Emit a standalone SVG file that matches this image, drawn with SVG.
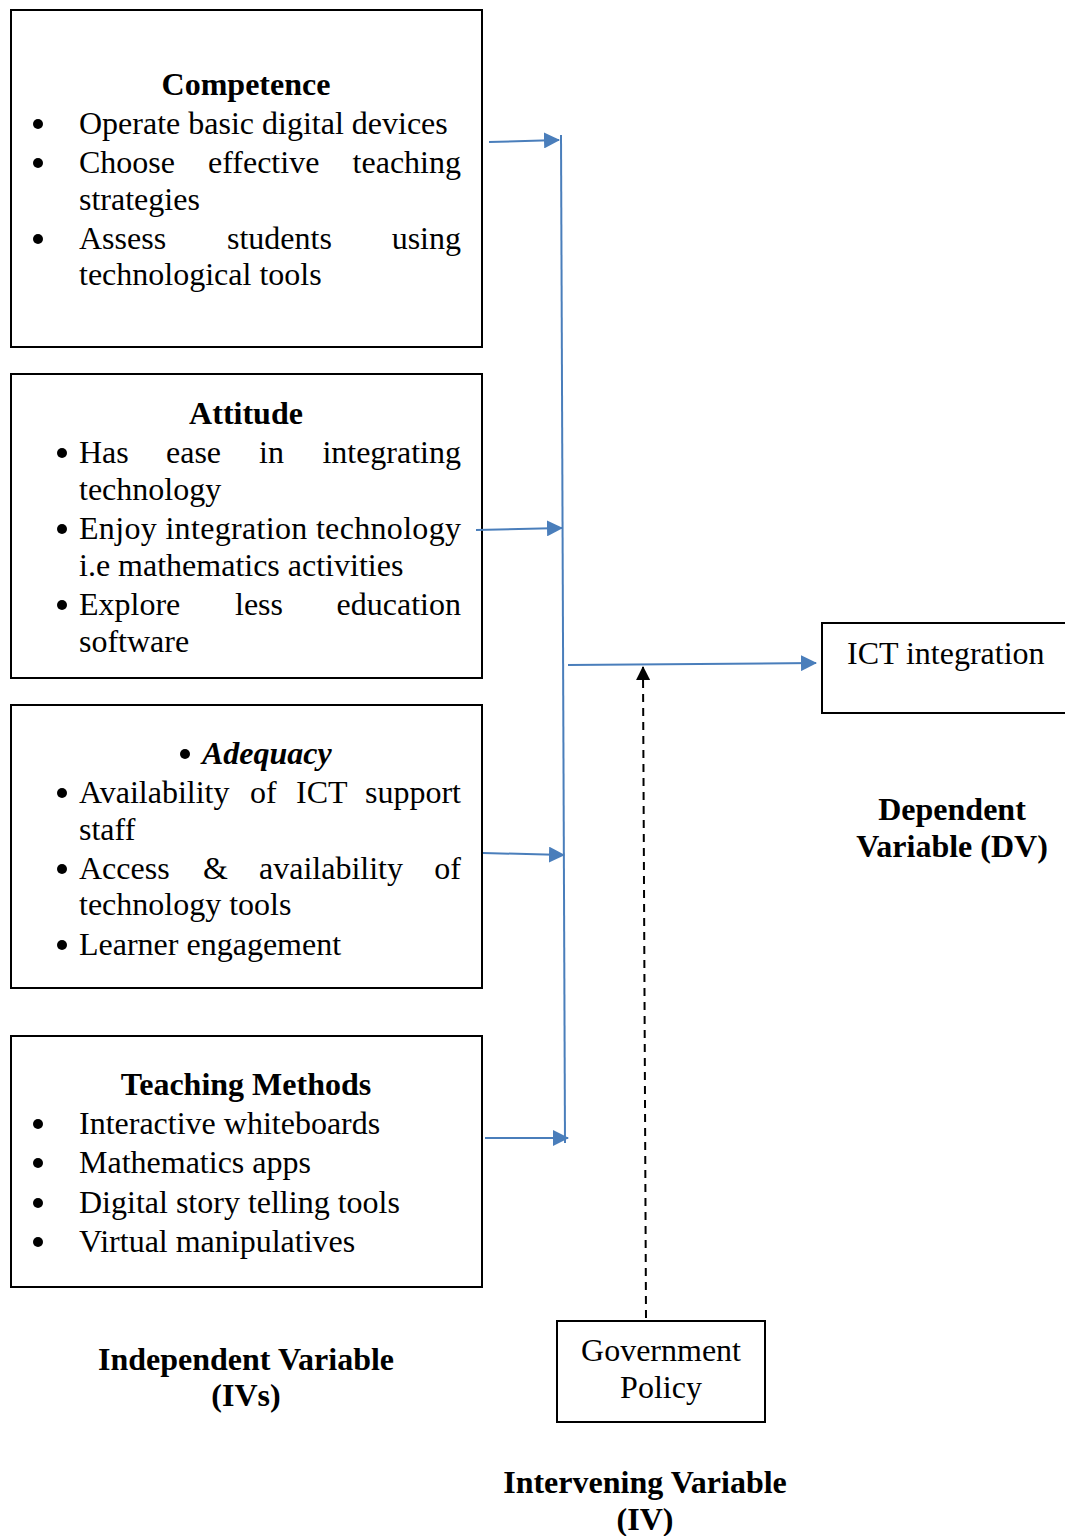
<svg xmlns="http://www.w3.org/2000/svg" width="1065" height="1536" viewBox="0 0 1065 1536">
<style>
text{font-family:"Liberation Serif","Times New Roman",serif;font-size:32px;fill:#000}
.b{font-weight:bold}
.c{text-anchor:middle}
.e{text-anchor:end}
.box{fill:#fff;stroke:#000;stroke-width:2}
.blue{stroke:#4a7ebb;stroke-width:2;fill:none}
.dot{fill:#000}
</style>
<defs>
<marker id="ab" markerWidth="16" markerHeight="16" refX="15" refY="8" orient="auto" markerUnits="userSpaceOnUse" viewBox="0 0 16 16"><path d="M0,0 L16,8 L0,16 z" fill="#4a7ebb"/></marker>
<marker id="ak" markerWidth="14" markerHeight="14" refX="13" refY="7" orient="auto" markerUnits="userSpaceOnUse" viewBox="0 0 14 14"><path d="M0,0 L14,7 L0,14 z" fill="#000"/></marker>
</defs>
<rect width="1065" height="1536" fill="#fff"/>
<g id="competence">
<rect class="box" x="11" y="10" width="471" height="337"/>
<text class="b c" x="246" y="95">Competence</text>
<circle class="dot" cx="38" cy="124" r="5"/><text x="79" y="134">Operate basic digital devices</text>
<circle class="dot" cx="38" cy="163" r="5"/><text x="79" y="173">Choose</text><text x="208" y="173">effective</text><text class="e" x="461" y="173">teaching</text>
<text x="79" y="210">strategies</text>
<circle class="dot" cx="38" cy="239" r="5"/><text x="79" y="249">Assess</text><text x="227" y="249">students</text><text class="e" x="461" y="249">using</text>
<text x="79" y="285">technological tools</text>
</g>
<g id="attitude">
<rect class="box" x="11" y="374" width="471" height="304"/>
<text class="b c" x="246" y="424">Attitude</text>
<circle class="dot" cx="62" cy="453" r="5"/><text x="79" y="463">Has</text><text x="166" y="463">ease</text><text x="259" y="463">in</text><text class="e" x="461" y="463">integrating</text>
<text x="79" y="500">technology</text>
<circle class="dot" cx="62" cy="529" r="5"/><text x="79" y="539" textLength="382" lengthAdjust="spacing">Enjoy integration technology</text>
<text x="79" y="576">i.e mathematics activities</text>
<circle class="dot" cx="62" cy="605" r="5"/><text x="79" y="615">Explore</text><text x="235" y="615">less</text><text class="e" x="461" y="615">education</text>
<text x="79" y="652">software</text>
</g>
<g id="adequacy">
<rect class="box" x="11" y="705" width="471" height="283"/>
<circle class="dot" cx="185" cy="754" r="5"/><text class="b" x="202" y="764" font-style="italic">Adequacy</text>
<circle class="dot" cx="62" cy="793" r="5"/><text x="79" y="803">Availability</text><text x="250" y="803">of</text><text x="296" y="803">ICT</text><text class="e" x="461" y="803">support</text>
<text x="79" y="840">staff</text>
<circle class="dot" cx="62" cy="869" r="5"/><text x="79" y="879">Access</text><text x="203" y="879">&amp;</text><text x="259" y="879">availability</text><text class="e" x="461" y="879">of</text>
<text x="79" y="915">technology tools</text>
<circle class="dot" cx="62" cy="945" r="5"/><text x="79" y="955">Learner engagement</text>
</g>
<g id="teaching-methods">
<rect class="box" x="11" y="1036" width="471" height="251"/>
<text class="b c" x="246" y="1095">Teaching Methods</text>
<circle class="dot" cx="38" cy="1124" r="5"/><text x="79" y="1134">Interactive whiteboards</text>
<circle class="dot" cx="38" cy="1163" r="5"/><text x="79" y="1173">Mathematics apps</text>
<circle class="dot" cx="38" cy="1203" r="5"/><text x="79" y="1213">Digital story telling tools</text>
<circle class="dot" cx="38" cy="1242" r="5"/><text x="79" y="1252">Virtual manipulatives</text>
</g>
<g id="iv-label">
<text class="b c" x="246" y="1370">Independent Variable</text>
<text class="b c" x="246" y="1406">(IVs)</text>
</g>
<g id="ict-integration">
<rect class="box" x="822" y="623" width="260" height="90"/>
<text x="847" y="664">ICT integration</text>
</g>
<g id="dv-label">
<text class="b c" x="952" y="820">Dependent</text>
<text class="b c" x="952" y="857">Variable (DV)</text>
</g>
<g id="government-policy">
<rect class="box" x="557" y="1321" width="208" height="101"/>
<text class="c" x="661" y="1361">Government</text>
<text class="c" x="661" y="1398">Policy</text>
</g>
<g id="intervening-label">
<text class="b c" x="645" y="1493">Intervening Variable</text>
<text class="b c" x="645" y="1530">(IV)</text>
</g>
<g id="connectors">
<line class="blue" x1="561" y1="135" x2="565" y2="1143"/>
<line class="blue" x1="489" y1="142" x2="559" y2="140" marker-end="url(#ab)"/>
<line class="blue" x1="476" y1="530" x2="562" y2="528" marker-end="url(#ab)"/>
<line class="blue" x1="483" y1="853" x2="564" y2="855" marker-end="url(#ab)"/>
<line class="blue" x1="485" y1="1138" x2="568" y2="1138" marker-end="url(#ab)"/>
<line class="blue" x1="568" y1="665" x2="816" y2="663" marker-end="url(#ab)"/>
<line x1="646" y1="1318" x2="643" y2="667" stroke="#000" stroke-width="2" stroke-dasharray="8,6" marker-end="url(#ak)"/>
</g>
</svg>
